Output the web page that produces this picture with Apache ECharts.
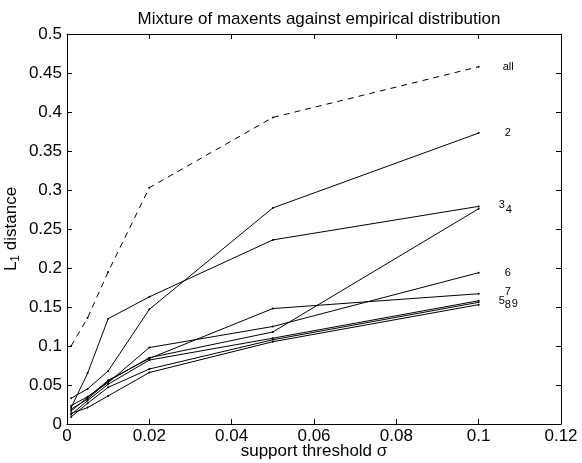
<!DOCTYPE html>
<html>
<head>
<meta charset="utf-8">
<script src="https://cdn.jsdelivr.net/npm/echarts@6/dist/echarts.min.js"></script>
<style>
html, body { margin: 0; padding: 0; background: #fff; }
#main { width: 582px; height: 463px; }
</style>
</head>
<body>
<div id="main"></div>
<script>
// support thresholds (x) shared by every curve
var thresholds = [0.001, 0.005, 0.01, 0.02, 0.05, 0.1];

// L1 distance per curve
var lineAll = [0.100, 0.136, 0.195, 0.303, 0.393, 0.458];
var line2 = [0.033, 0.045, 0.068, 0.147, 0.277, 0.373];
var line3 = [0.021, 0.065, 0.135, 0.163, 0.236, 0.279];
var line4 = [0.019, 0.032, 0.055, 0.085, 0.118, 0.276];
var line5 = [0.012, 0.030, 0.051, 0.082, 0.110, 0.158];
var line6 = [0.0235, 0.035, 0.053, 0.098, 0.125, 0.194];
var line7 = [0.0167, 0.034, 0.056, 0.084, 0.148, 0.167];
var line8 = [0.009, 0.0265, 0.047, 0.0705, 0.108, 0.156];
var line9 = [0.0137, 0.021, 0.036, 0.066, 0.1055, 0.153];

var curves = [
    { name: 'all', values: lineAll, dashed: true, off: [16, 0] },
    { name: '2', values: line2, off: [18, 0] },
    { name: '3', values: line3, off: [12, -1] },
    { name: '4', values: line4, off: [19, 1] },
    { name: '5', values: line5, off: [12, 0] },
    { name: '6', values: line6, off: [18, 0] },
    { name: '7', values: line7, off: [18, -2] },
    { name: '8', values: line8, off: [18, 3] },
    { name: '9', values: line9, off: [25, -1] }
];

var font = 'Liberation Sans, Arial, Helvetica, sans-serif';

function trim(v) {
    return String(parseFloat(v.toFixed(3)));
}

var series = curves.map(function (c) {
    return {
        name: c.name,
        type: 'line',
        data: thresholds.map(function (x, i) { return [x, c.values[i]]; }),
        symbol: 'circle',
        symbolSize: 2,
        showSymbol: true,
        itemStyle: { color: '#000' },
        lineStyle: { color: '#000', width: 1, type: c.dashed ? [6, 5] : 'solid' },
        endLabel: {
            show: true,
            formatter: c.name,
            offset: c.off,
            color: '#000',
            fontSize: 11,
            fontFamily: font
        },
        animation: false,
        silent: true
    };
});

var boxLine = { show: true, onZero: false, lineStyle: { color: '#000', width: 1 } };
var boxTick = { show: true, inside: true, length: 5, lineStyle: { color: '#000' } };

var chart = echarts.init(document.getElementById('main'));
chart.setOption({
    backgroundColor: '#fff',
    animation: false,
    title: {
        text: 'Mixture of maxents against empirical distribution',
        left: 314,
        textAlign: 'center',
        top: 6,
        textStyle: { fontSize: 17, fontWeight: 'normal', color: '#000', fontFamily: font }
    },
    grid: { left: 67, right: 21, top: 34, bottom: 39, containLabel: false, outerBoundsMode: 'none' },
    xAxis: [{
        type: 'value',
        min: 0,
        max: 0.12,
        interval: 0.02,
        name: 'support threshold σ',
        nameLocation: 'middle',
        nameGap: 19,
        nameMoveOverlap: false,
        nameTextStyle: { fontSize: 17, color: '#000', fontFamily: font },
        axisLine: boxLine,
        axisTick: boxTick,
        axisLabel: { fontSize: 17, color: '#000', margin: 4, fontFamily: font, formatter: trim },
        splitLine: { show: false }
    }, {
        type: 'value',
        position: 'top',
        min: 0,
        max: 0.12,
        interval: 0.02,
        axisLine: boxLine,
        axisTick: boxTick,
        axisLabel: { show: false },
        splitLine: { show: false }
    }],
    yAxis: [{
        type: 'value',
        min: 0,
        max: 0.5,
        interval: 0.05,
        name: '{a|L}{s|1}{a| distance}',
        nameLocation: 'middle',
        nameGap: 45,
        nameMoveOverlap: false,
        nameRotate: 90,
        nameTextStyle: {
            color: '#000',
            fontFamily: font,
            rich: {
                a: { fontSize: 17, color: '#000', fontFamily: font },
                s: { fontSize: 12, color: '#000', fontFamily: font, padding: [9, 0, 0, 0] }
            }
        },
        axisLine: boxLine,
        axisTick: boxTick,
        axisLabel: { fontSize: 17, color: '#000', margin: 5, fontFamily: font, formatter: trim },
        splitLine: { show: false }
    }, {
        type: 'value',
        position: 'right',
        min: 0,
        max: 0.5,
        interval: 0.05,
        axisLine: boxLine,
        axisTick: boxTick,
        axisLabel: { show: false },
        splitLine: { show: false }
    }],
    series: series
});
</script>
</body>
</html>
